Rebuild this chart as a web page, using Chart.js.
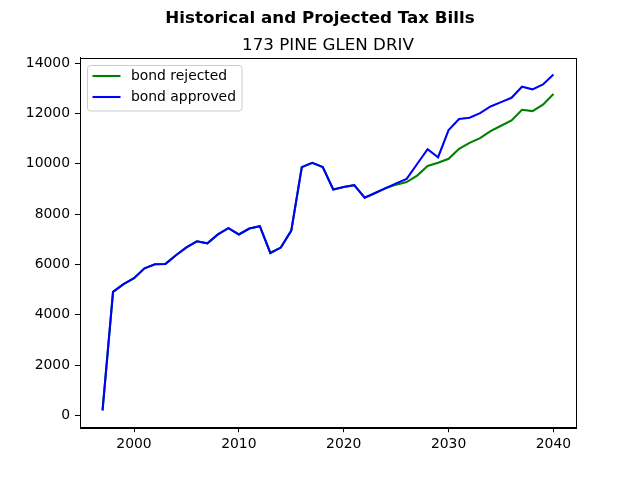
<!DOCTYPE html>
<html>
<head>
<meta charset="utf-8">
<script src="https://cdn.jsdelivr.net/npm/chart.js@4"></script>
<style>
  html, body { margin: 0; padding: 0; background: #fff; }
  #wrap { width: 640px; height: 480px; position: relative; }
  canvas { display: block; }
</style>
</head>
<body>
<div id="wrap"><canvas id="c" width="640" height="480"></canvas></div>
<script>
const suptitleText = "Historical and Projected Tax Bills";
const titleText = "173 PINE GLEN DRIV";
const seriesLabels = ["bond rejected", "bond approved"];
const seriesColors = ["green", "blue"];

const years = [1997, 1998, 1999, 2000, 2001, 2002, 2003, 2004, 2005, 2006,
  2007, 2008, 2009, 2010, 2011, 2012, 2013, 2014, 2015, 2016,
  2017, 2018, 2019, 2020, 2021, 2022, 2023, 2024, 2025, 2026,
  2027, 2028, 2029, 2030, 2031, 2032, 2033, 2034, 2035, 2036,
  2037, 2038, 2039, 2040];

const bondRejected = [200, 4910, 5220, 5450, 5845, 6005, 6020, 6365, 6680, 6920,
  6840, 7190, 7440, 7190, 7425, 7520, 6455, 6670, 7345, 9865,
  10035, 9865, 8980, 9080, 9150, 8650, 8840, 9030, 9170, 9270,
  9530, 9910, 10040, 10195, 10595, 10830, 11020, 11295, 11510, 11720,
  12145, 12090, 12345, 12770];

const bondApproved = [200, 4910, 5220, 5450, 5845, 6005, 6020, 6365, 6680, 6920,
  6840, 7190, 7440, 7190, 7425, 7520, 6455, 6670, 7345, 9865,
  10035, 9865, 8980, 9080, 9150, 8650, 8840, 9030, 9220, 9400,
  9990, 10580, 10260, 11335, 11775, 11825, 12010, 12275, 12450, 12620,
  13060, 12955, 13150, 13550];

const xTicks = [2000, 2010, 2020, 2030, 2040];
const yTicks = [0, 2000, 4000, 6000, 8000, 10000, 12000, 14000];

const FONT = "'DejaVu Sans', sans-serif";

function toPoints(vals) { return years.map((y, i) => ({ x: y, y: vals[i] })); }

// matplotlib-like 5% margins
const allVals = bondRejected.concat(bondApproved);
const yMinV = Math.min(...allVals), yMaxV = Math.max(...allVals);
const yPad = (yMaxV - yMinV) * 0.05;
const xPad = (years[years.length - 1] - years[0]) * 0.05;

const framePlugin = {
  id: 'frame',
  afterDraw(chart) {
    const ctx = chart.ctx;
    const a = chart.chartArea;
    ctx.save();
    // spines
    ctx.strokeStyle = '#000';
    ctx.lineWidth = 1;
    ctx.strokeRect(Math.round(a.left) + 0.5, Math.round(a.top) + 0.5,
      Math.round(a.right - a.left), Math.round(a.bottom - a.top));

    // titles
    ctx.fillStyle = '#000';
    ctx.textAlign = 'center';
    ctx.textBaseline = 'alphabetic';
    ctx.font = "bold 16.7px " + FONT;
    ctx.fillText(suptitleText, 320, 22.5);
    ctx.font = "16.7px " + FONT;
    ctx.fillText(titleText, (a.left + a.right) / 2, 49.5);

    // legend
    const lx = 87.5, ly = 65.5, lw = 154.5, lh = 45.5;
    ctx.beginPath();
    ctx.roundRect(lx, ly, lw, lh, 3);
    ctx.fillStyle = 'rgba(255,255,255,0.8)';
    ctx.fill();
    ctx.strokeStyle = '#cccccc';
    ctx.lineWidth = 1;
    ctx.stroke();
    ctx.font = "13.9px " + FONT;
    ctx.textAlign = 'left';
    ctx.textBaseline = 'middle';
    const rowsY = [76, 97];
    for (let i = 0; i < seriesLabels.length; i++) {
      ctx.beginPath();
      ctx.strokeStyle = seriesColors[i];
      ctx.lineWidth = 2.08;
      ctx.moveTo(92.5, rowsY[i]);
      ctx.lineTo(120.5, rowsY[i]);
      ctx.stroke();
      ctx.fillStyle = '#000';
      ctx.fillText(seriesLabels[i], 131, rowsY[i] + 0.5);
    }
    ctx.restore();
  }
};

new Chart(document.getElementById('c'), {
  type: 'line',
  data: {
    datasets: [
      { label: seriesLabels[0], data: toPoints(bondRejected), borderColor: seriesColors[0],
        borderWidth: 2.08, pointRadius: 0, fill: false, tension: 0, order: 1 },
      { label: seriesLabels[1], data: toPoints(bondApproved), borderColor: seriesColors[1],
        borderWidth: 2.08, pointRadius: 0, fill: false, tension: 0, order: 0 }
    ]
  },
  options: {
    responsive: false,
    animation: false,
    devicePixelRatio: 1,
    layout: { padding: { left: 0, right: 64, top: 57.6, bottom: 0 } },
    plugins: { legend: { display: false }, title: { display: false }, tooltip: { enabled: false } },
    scales: {
      x: {
        type: 'linear',
        min: years[0] - xPad,
        max: years[years.length - 1] + xPad,
        afterBuildTicks(s) { s.ticks = xTicks.map(v => ({ value: v })); },
        afterFit(s) { s.height = 52.8; },
        grid: { drawOnChartArea: false, drawTicks: true, tickLength: 5, tickColor: '#000', tickWidth: 1 },
        border: { display: true, color: '#000', width: 1 },
        ticks: { color: '#000', font: { family: FONT, size: 13.9 }, padding: 4, maxRotation: 0,
          callback: v => String(v) }
      },
      y: {
        type: 'linear',
        min: yMinV - yPad,
        max: yMaxV + yPad,
        afterBuildTicks(s) { s.ticks = yTicks.map(v => ({ value: v })); },
        afterFit(s) { s.width = 80; },
        grid: { drawOnChartArea: false, drawTicks: true, tickLength: 5, tickColor: '#000', tickWidth: 1 },
        border: { display: true, color: '#000', width: 1 },
        ticks: { color: '#000', font: { family: FONT, size: 13.9 }, padding: 5,
          callback: v => String(v) }
      }
    }
  },
  plugins: [framePlugin]
});
</script>
</body>
</html>
